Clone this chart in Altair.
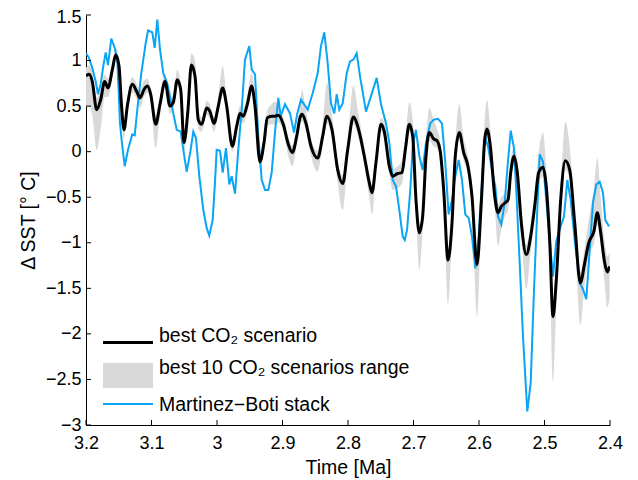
import altair as alt
import pandas as pd

# ---- data ----
best_x = [3.2000, 3.1954, 3.1904, 3.1837, 3.1776, 3.1715, 3.1664, 3.1598, 3.1547, 3.1496,
          3.1461, 3.1420, 3.1369, 3.1293, 3.1226, 3.1176, 3.1115, 3.1064, 3.1012, 3.0936,
          3.0870, 3.0794, 3.0718, 3.0667, 3.0606, 3.0554, 3.0504, 3.0443, 3.0392, 3.0336,
          3.0286, 3.0234, 3.0157, 3.0107, 3.0046, 2.9980, 2.9913, 2.9852, 2.9766, 2.9699,
          2.9649, 2.9598, 2.9537, 2.9470, 2.9420, 2.9344, 2.9282, 2.9232, 2.9165, 2.9115,
          2.9064, 2.8988, 2.8911, 2.8850, 2.8783, 2.8733, 2.8702, 2.8641, 2.8565, 2.8463,
          2.8386, 2.8321, 2.8244, 2.8157, 2.8081, 2.8005, 2.7919, 2.7837, 2.7751, 2.7675,
          2.7634, 2.7573, 2.7496, 2.7446, 2.7369, 2.7318, 2.7241, 2.7176, 2.7125, 2.7064,
          2.7012, 2.6962, 2.6911, 2.6860, 2.6809, 2.6759, 2.6692, 2.6641, 2.6591, 2.6539,
          2.6473, 2.6412, 2.6362, 2.6301, 2.6234, 2.6168, 2.6107, 2.6031, 2.5965, 2.5913,
          2.5878, 2.5827, 2.5760, 2.5710, 2.5660, 2.5598, 2.5557, 2.5516, 2.5466, 2.5415,
          2.5354, 2.5278, 2.5211, 2.5150, 2.5089, 2.5023, 2.4973, 2.4921, 2.4870, 2.4820,
          2.4753, 2.4682, 2.4615, 2.4539, 2.4453, 2.4386, 2.4325, 2.4244, 2.4194, 2.4142,
          2.4081, 2.4041, 2.4005]
best_y = [0.83, 0.85, 0.77, 0.46, 0.57, 0.77, 0.70, 0.90, 1.06, 0.94,
          0.54, 0.24, 0.50, 0.74, 0.66, 0.59, 0.68, 0.72, 0.63, 0.30,
          0.52, 0.77, 0.50, 0.54, 0.79, 0.68, 0.10, 0.46, 0.95, 0.83,
          0.35, 0.30, 0.48, 0.44, 0.31, 0.50, 0.70, 0.50, 0.06, 0.28,
          0.42, 0.39, 0.52, 0.72, 0.50, -0.11, 0.10, 0.37, 0.39, 0.39,
          0.40, 0.30, 0.08, -0.01, 0.17, 0.37, 0.41, 0.31, 0.06, -0.07,
          0.17, 0.39, 0.24, -0.20, -0.35, 0.02, 0.38, 0.24, -0.05, -0.34,
          -0.45, -0.12, 0.30, 0.22, -0.16, -0.27, -0.24, -0.23, 0.02, 0.30,
          0.17, -0.53, -0.89, -0.71, -0.05, 0.21, 0.14, 0.12, 0.00, -0.42,
          -1.19, -0.78, -0.05, 0.21, -0.01, -0.16, -0.49, -1.24, -0.56, 0.13,
          0.25, 0.06, -0.49, -0.67, -0.60, -0.56, -0.53, -0.23, -0.05, -0.23,
          -0.78, -1.13, -0.93, -0.60, -0.23, -0.17, -0.38, -0.97, -1.81, -1.41,
          -0.53, -0.10, -0.20, -0.78, -1.44, -1.22, -1.00, -0.87, -0.67, -0.89,
          -1.22, -1.32, -1.26]
range_lo = [0.49, 0.50, 0.40, 0.02, 0.25, 0.60, 0.60, 0.82, 0.98, 0.85,
            0.45, 0.15, 0.42, 0.65, 0.58, 0.48, 0.60, 0.65, 0.55, 0.04,
            0.40, 0.70, 0.42, 0.46, 0.72, 0.60, 0.00, 0.38, 0.88, 0.75,
            0.25, 0.22, 0.40, 0.36, 0.22, 0.42, 0.62, 0.42, 0.00, 0.20,
            0.34, 0.31, 0.44, 0.64, 0.42, -0.18, 0.02, 0.28, 0.30, 0.30,
            0.32, 0.22, -0.05, -0.16, 0.08, 0.30, 0.33, 0.22, -0.05, -0.22,
            0.08, 0.31, 0.15, -0.35, -0.64, -0.08, 0.30, 0.15, -0.15, -0.50,
            -0.69, -0.22, 0.22, 0.14, -0.25, -0.42, -0.40, -0.35, -0.06, 0.22,
            0.08, -0.65, -1.30, -0.85, -0.15, 0.12, 0.06, 0.04, -0.08, -0.55,
            -1.68, -0.90, -0.15, 0.12, -0.10, -0.26, -0.62, -1.81, -0.70, 0.02,
            0.15, -0.04, -0.60, -1.04, -0.85, -0.70, -0.65, -0.35, -0.15, -0.33,
            -0.92, -1.51, -1.10, -0.72, -0.35, -0.27, -0.50, -1.15, -2.52, -1.70,
            -0.68, -0.20, -0.30, -0.90, -1.90, -1.45, -1.15, -1.00, -0.80, -1.00,
            -1.45, -1.71, -1.60]
range_hi = [0.92, 0.95, 0.88, 0.60, 0.68, 0.85, 0.80, 0.98, 1.14, 1.02,
            0.62, 0.32, 0.58, 0.82, 0.74, 0.68, 0.78, 0.80, 0.70, 0.40,
            0.60, 0.86, 0.58, 0.62, 0.90, 0.76, 0.18, 0.55, 1.08, 1.00,
            0.45, 0.38, 0.56, 0.52, 0.38, 0.62, 0.94, 0.60, 0.14, 0.36,
            0.50, 0.47, 0.62, 0.87, 0.60, -0.03, 0.18, 0.45, 0.52, 0.55,
            0.50, 0.38, 0.16, 0.07, 0.25, 0.50, 0.68, 0.45, 0.14, 0.01,
            0.30, 0.76, 0.40, -0.10, -0.26, 0.12, 0.72, 0.40, 0.05, -0.25,
            -0.36, -0.02, 0.37, 0.32, -0.08, -0.19, -0.16, -0.10, 0.15, 0.54,
            0.35, -0.40, -0.80, -0.60, 0.10, 0.48, 0.35, 0.25, 0.10, -0.30,
            -1.10, -0.65, 0.10, 0.52, 0.15, -0.05, -0.38, -1.15, -0.42, 0.35,
            0.57, 0.25, -0.38, -0.58, -0.50, -0.45, -0.40, -0.10, 0.06, -0.10,
            -0.65, -1.02, -0.80, -0.45, 0.00, 0.21, -0.20, -0.85, -1.70, -1.25,
            -0.40, 0.33, 0.05, -0.65, -1.32, -1.05, -0.75, -0.40, -0.07, -0.50,
            -1.00, -1.15, -1.10]

mb_x = [3.2000, 3.1954, 3.1904, 3.1852, 3.1817, 3.1776, 3.1736, 3.1699, 3.1664, 3.1614,
        3.1562, 3.1522, 3.1481, 3.1446, 3.1409, 3.1359, 3.1293, 3.1256, 3.1217, 3.1156,
        3.1089, 3.1053, 3.0988, 3.0951, 3.0911, 3.0870, 3.0820, 3.0759, 3.0707, 3.0667,
        3.0615, 3.0554, 3.0514, 3.0463, 3.0402, 3.0362, 3.0321, 3.0270, 3.0209, 3.0157,
        3.0118, 3.0066, 3.0031, 3.0005, 2.9954, 2.9913, 2.9863, 2.9812, 2.9776, 2.9725,
        2.9675, 2.9623, 2.9573, 2.9507, 2.9470, 2.9420, 2.9369, 2.9318, 2.9267, 2.9217,
        2.9165, 2.9115, 2.9064, 2.9027, 2.8962, 2.8885, 2.8824, 2.8774, 2.8718, 2.8615,
        2.8539, 2.8463, 2.8412, 2.8362, 2.8310, 2.8260, 2.8209, 2.8173, 2.8133, 2.8081,
        2.8020, 2.7969, 2.7919, 2.7867, 2.7817, 2.7725, 2.7649, 2.7562, 2.7496, 2.7420,
        2.7369, 2.7318, 2.7267, 2.7217, 2.7165, 2.7134, 2.7099, 2.7049, 2.7012, 2.6962,
        2.6911, 2.6860, 2.6809, 2.6744, 2.6692, 2.6626, 2.6565, 2.6515, 2.6463, 2.6412,
        2.6362, 2.6310, 2.6260, 2.6209, 2.6157, 2.6107, 2.6056, 2.6005, 2.5954, 2.5913,
        2.5863, 2.5802, 2.5751, 2.5710, 2.5660, 2.5608, 2.5557, 2.5516, 2.5466, 2.5431,
        2.5379, 2.5328, 2.5263, 2.5211, 2.5160, 2.5110, 2.5073, 2.5023, 2.4973, 2.4921,
        2.4870, 2.4820, 2.4753, 2.4702, 2.4652, 2.4600, 2.4539, 2.4463, 2.4412, 2.4362,
        2.4310, 2.4260, 2.4209, 2.4157, 2.4107, 2.4072, 2.4015]
mb_y = [1.08, 1.03, 0.92, 0.77, 0.63, 0.74, 0.94, 1.09, 0.95, 1.24,
        1.14, 1.01, 0.31, 0.06, -0.16, 0.02, 0.19, 0.18, 0.46, 0.86,
        1.19, 1.33, 1.31, 1.14, 1.45, 1.12, 0.86, 0.75, 0.57, 0.42,
        0.24, 0.22, 0.02, -0.22, 0.02, 0.22, 0.15, -0.27, -0.64, -0.84,
        -0.92, -0.75, -0.34, 0.02, 0.01, -0.23, 0.04, -0.36, -0.27, -0.46,
        0.02, 0.46, 1.01, 1.16, 0.90, 0.85, 0.17, -0.31, -0.42, -0.42,
        -0.23, 0.21, 0.59, 0.39, 0.52, 0.42, 0.21, 0.42, 0.57, 0.46,
        0.64, 0.86, 1.16, 1.31, 0.97, 0.53, 0.42, 0.63, 0.46, 0.53,
        0.86, 0.99, 1.01, 1.08, 0.83, 0.44, 0.61, 0.81, 0.52, 0.31,
        0.10, -0.31, -0.38, -0.64, -0.93, -0.97, -0.86, -0.42, 0.06, 0.24,
        -0.05, -0.20, 0.10, 0.31, 0.35, 0.36, 0.31, -0.12, -0.69, -0.53,
        -0.27, -0.09, -0.31, -0.69, -0.73, -0.93, -1.28, -0.93, -0.34, 0.17,
        0.06, -0.20, -0.38, -0.71, -0.80, -0.56, -0.10, 0.23, 0.04, -0.42,
        -1.22, -2.03, -2.85, -2.54, -1.51, -0.64, -0.03, -0.11, -0.53, -0.97,
        -1.37, -0.98, -0.82, -0.71, -0.31, -0.53, -0.97, -1.44, -1.51, -1.62,
        -1.08, -0.56, -0.36, -0.33, -0.45, -0.75, -0.82]

x_ticks = [3.2, 3.1, 3.0, 2.9, 2.8, 2.7, 2.6, 2.5, 2.4]
y_ticks = [-3.0, -2.5, -2.0, -1.5, -1.0, -0.5, 0.0, 0.5, 1.0, 1.5]
legend_labels = ["best CO\u2082 scenario", "best 10 CO\u2082 scenarios range", "Martinez\u2212Boti stack"]

BLACK = "#000000"
GRAY = "#d9d9d9"
BLUE = "#0aa5f5"
FONT = "Liberation Sans"
W, H = 524, 410

best_df = pd.DataFrame({"t": best_x, "sst": best_y, "lo": range_lo, "hi": range_hi})
mb_df = pd.DataFrame({"t": mb_x, "sst": mb_y})
xt_df = pd.DataFrame({"t": x_ticks})
yt_df = pd.DataFrame({"v": y_ticks})
leg_df = pd.DataFrame({"label": legend_labels})

xscale = alt.Scale(domain=[2.4, 3.2], reverse=True, nice=False, zero=False)
yscale = alt.Scale(domain=[-3, 1.5], nice=False, zero=False)

xaxis = alt.Axis(values=x_ticks, format="~g", title="Time [Ma]", ticks=False, tickSize=0,
                 grid=False, labelPadding=9, labelFlush=False, titleY=48,
                 titleBaseline="alphabetic", titleFontSize=19.5)
yaxis = alt.Axis(values=y_ticks, format="~g", title="\u0394 SST [\u00b0 C]", ticks=False,
                 tickSize=0, grid=False, labelPadding=5, titleX=-58, titleY=H / 2,
                 titleBaseline="middle", titleAlign="center", labelFlush=False,
                 titleFontSize=19.5,
                 labelOffset={"condition": {"test": "datum.value >= 1.5", "value": 2}, "value": 0})

band = alt.Chart(best_df).mark_area(color=GRAY, fill=GRAY, opacity=1, interpolate="monotone").encode(
    x=alt.X("t:Q", scale=xscale, axis=xaxis),
    y=alt.Y("lo:Q", scale=yscale, axis=yaxis),
    y2=alt.Y2("hi:Q"),
)

blue = alt.Chart(mb_df).mark_line(color=BLUE, strokeWidth=2, clip=True).encode(
    x=alt.X("t:Q", scale=xscale),
    y=alt.Y("sst:Q", scale=yscale),
    order=alt.Order("t:Q"),
)

black = alt.Chart(best_df).mark_line(color=BLACK, strokeWidth=3, interpolate="monotone", clip=True).encode(
    x=alt.X("t:Q", scale=xscale),
    y=alt.Y("sst:Q", scale=yscale),
    order=alt.Order("t:Q"),
)

xticks = alt.Chart(xt_df).mark_rule(color=BLACK, strokeWidth=1).encode(
    x=alt.X("t:Q", scale=xscale), y=alt.value(H), y2=alt.value(H - 5)
)
yticks = alt.Chart(yt_df).mark_rule(color=BLACK, strokeWidth=1).encode(
    y=alt.Y("v:Q", scale=yscale), x=alt.value(0), x2=alt.value(5)
)

# legend (inside, lower left)
leg1_line = alt.Chart(leg_df.iloc[[0]]).mark_rule(color=BLACK, strokeWidth=3).encode(
    x=alt.value(17), x2=alt.value(67), y=alt.value(327.5))
leg2_rect = alt.Chart(leg_df.iloc[[1]]).mark_rect(color=GRAY).encode(
    x=alt.value(17), x2=alt.value(67), y=alt.value(348), y2=alt.value(373))
leg3_line = alt.Chart(leg_df.iloc[[2]]).mark_rule(color=BLUE, strokeWidth=2).encode(
    x=alt.value(17), x2=alt.value(67), y=alt.value(389))
text_kw = dict(align="left", baseline="alphabetic", font=FONT, fontSize=19.5, color=BLACK)
leg1_text = alt.Chart(leg_df.iloc[[0]]).mark_text(**text_kw).encode(
    x=alt.value(73), y=alt.value(327), text="label:N")
leg2_text = alt.Chart(leg_df.iloc[[1]]).mark_text(**text_kw).encode(
    x=alt.value(73), y=alt.value(359), text="label:N")
leg3_text = alt.Chart(leg_df.iloc[[2]]).mark_text(**text_kw).encode(
    x=alt.value(73), y=alt.value(396), text="label:N")

chart = alt.layer(
    band, blue, black, xticks, yticks,
    leg1_line, leg2_rect, leg3_line, leg1_text, leg2_text, leg3_text
).properties(
    width=W, height=H, autosize="none",
    padding={"left": 78, "top": 7, "right": 20, "bottom": 55},
    background="white",
).configure_view(stroke=None).configure_axis(
    domainColor=BLACK, domainWidth=1, labelColor=BLACK, titleColor=BLACK,
    labelFont=FONT, titleFont=FONT, labelFontSize=18,
    titleFontWeight="normal",
)

chart.save("out.html", embed_options={"renderer": "svg", "actions": False})
